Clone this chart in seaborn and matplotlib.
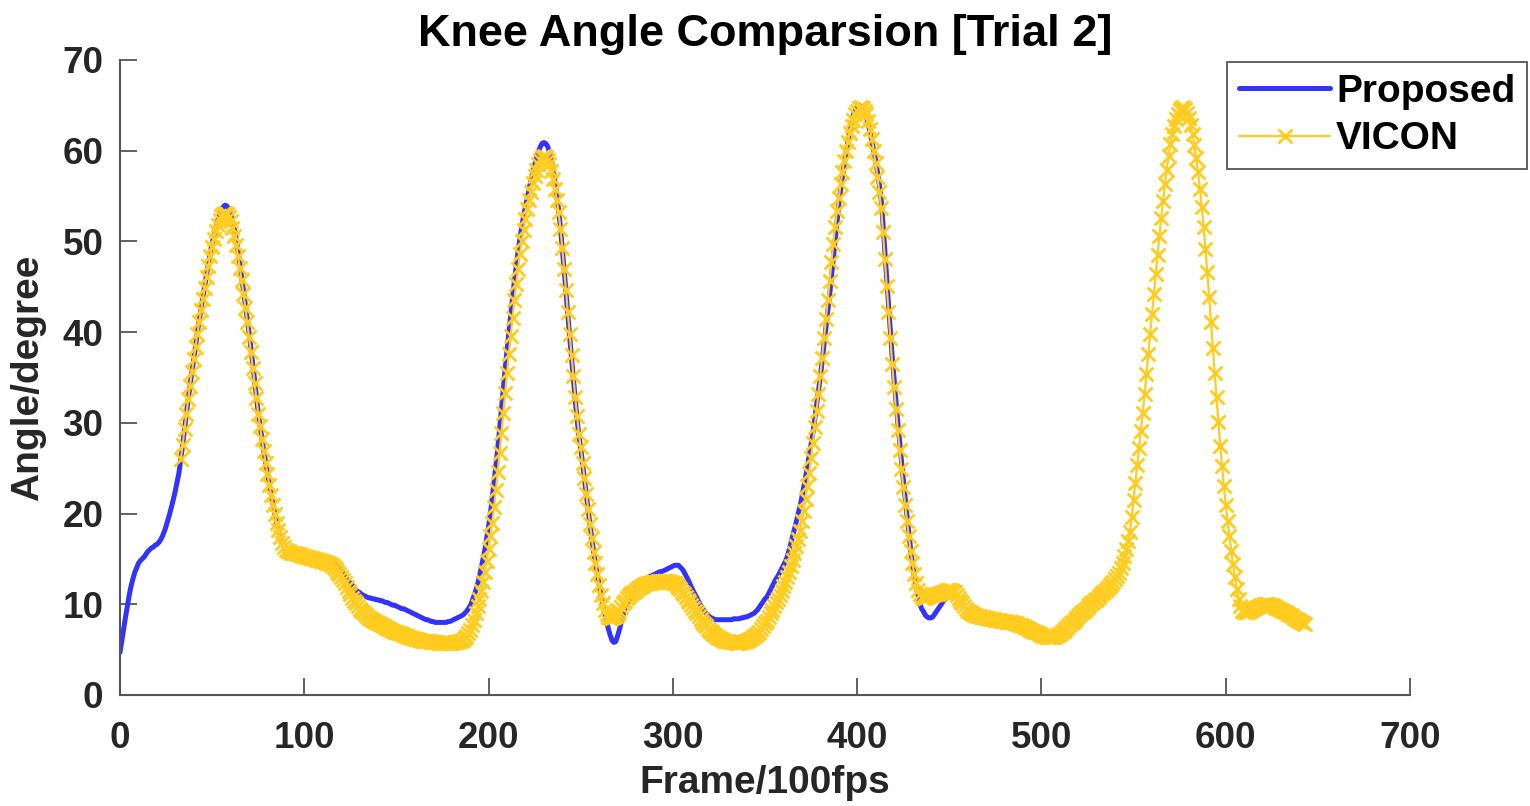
import numpy as np
import pandas as pd
import matplotlib
matplotlib.use("Agg")
import matplotlib.pyplot as plt
import seaborn as sns

# ---------------- data (one value per frame) ----------------
proposed_start = 0
proposed = [
    4.7, 6.0, 7.3, 8.6, 9.8, 11.0, 12.0, 12.8, 13.5, 14.0,
    14.5, 14.8, 15.0, 15.2, 15.5, 15.8, 16.0, 16.2, 16.3, 16.5,
    16.6, 16.8, 17.1, 17.5, 18.0, 18.6, 19.3, 20.0, 20.8, 21.6,
    22.5, 23.5, 24.5, 26.0, 27.6, 29.3, 31.0, 32.6, 34.1, 35.6,
    37.0, 38.4, 40.0, 41.3, 42.6, 43.9, 45.1, 46.4, 47.6, 48.7,
    49.8, 50.7, 51.5, 52.3, 53.0, 53.5, 53.8, 54.0, 53.9, 53.6,
    53.0, 52.3, 51.5, 50.3, 49.0, 47.6, 46.1, 44.6, 43.0, 41.5,
    40.0, 38.3, 36.6, 34.8, 33.0, 31.1, 29.7, 28.3, 26.9, 25.7,
    24.5, 23.3, 22.2, 21.1, 20.0, 19.0, 18.2, 17.5, 16.8, 16.3,
    16.0, 15.9, 15.9, 15.8, 15.8, 15.7, 15.7, 15.6, 15.6, 15.5,
    15.5, 15.4, 15.4, 15.3, 15.3, 15.2, 15.2, 15.1, 15.0, 15.0,
    14.9, 14.9, 14.8, 14.7, 14.7, 14.6, 14.5, 14.4, 14.2, 14.0,
    13.7, 13.4, 13.1, 12.8, 12.6, 12.3, 12.1, 11.8, 11.6, 11.4,
    11.3, 11.1, 11.0, 10.9, 10.8, 10.7, 10.7, 10.6, 10.6, 10.5,
    10.5, 10.4, 10.4, 10.3, 10.2, 10.2, 10.1, 10.0, 9.9, 9.9,
    9.8, 9.7, 9.6, 9.5, 9.5, 9.4, 9.3, 9.2, 9.1, 9.0,
    8.9, 8.8, 8.7, 8.6, 8.5, 8.4, 8.3, 8.3, 8.2, 8.1,
    8.1, 8.0, 8.0, 8.0, 8.0, 8.0, 8.0, 8.0, 8.1, 8.1,
    8.2, 8.3, 8.4, 8.5, 8.6, 8.7, 8.8, 9.0, 9.2, 9.5,
    9.8, 10.3, 10.9, 11.5, 12.2, 13.0, 14.0, 15.0, 16.0, 17.3,
    18.6, 20.0, 21.7, 23.5, 25.3, 27.2, 29.4, 31.6, 33.8, 35.9,
    38.0, 40.0, 41.9, 43.8, 45.6, 47.3, 48.9, 50.3, 51.6, 52.8,
    53.8, 54.8, 55.8, 56.7, 57.6, 58.4, 59.2, 59.9, 60.4, 60.8,
    60.9, 60.8, 60.5, 59.9, 59.0, 57.9, 56.6, 55.1, 53.5, 51.5,
    49.2, 46.9, 44.4, 42.0, 39.5, 37.2, 34.9, 32.6, 30.5, 28.6,
    27.2, 25.5, 23.8, 22.1, 20.4, 18.8, 17.3, 15.8, 14.5, 13.3,
    12.1, 11.0, 10.0, 9.1, 8.2, 7.3, 6.6, 6.0, 5.8, 5.9,
    6.5, 7.2, 8.0, 8.8, 9.5, 10.0, 10.4, 10.6, 11.0, 11.4,
    11.8, 12.0, 12.2, 12.4, 12.6, 12.8, 12.9, 13.0, 13.1, 13.2,
    13.3, 13.4, 13.5, 13.6, 13.6, 13.7, 13.8, 13.9, 14.0, 14.1,
    14.2, 14.3, 14.3, 14.3, 14.1, 13.9, 13.6, 13.2, 12.8, 12.4,
    11.9, 11.5, 11.1, 10.7, 10.3, 9.9, 9.6, 9.3, 9.0, 8.8,
    8.6, 8.5, 8.4, 8.3, 8.3, 8.3, 8.3, 8.3, 8.3, 8.3,
    8.3, 8.3, 8.3, 8.4, 8.4, 8.4, 8.4, 8.5, 8.5, 8.6,
    8.6, 8.7, 8.8, 8.9, 9.0, 9.2, 9.4, 9.7, 10.0, 10.3,
    10.6, 10.8, 11.2, 11.6, 12.0, 12.4, 12.8, 13.1, 13.5, 13.9,
    14.3, 14.7, 15.2, 15.9, 16.7, 17.5, 18.3, 19.1, 20.0, 20.8,
    21.8, 22.9, 24.0, 25.2, 26.4, 27.6, 28.9, 30.4, 32.0, 33.5,
    35.0, 36.8, 38.6, 40.4, 42.2, 44.0, 46.0, 48.0, 50.0, 52.0,
    54.0, 55.6, 57.1, 58.5, 59.8, 61.0, 62.1, 63.1, 64.0, 64.5,
    64.8, 65.0, 64.9, 64.6, 64.3, 63.7, 63.0, 62.0, 61.0, 60.0,
    59.0, 57.7, 56.3, 54.7, 52.0, 49.0, 46.0, 43.1, 40.2, 37.3,
    34.9, 32.5, 30.2, 28.0, 25.9, 23.8, 21.8, 19.9, 17.9, 16.1,
    14.5, 13.1, 12.0, 11.0, 10.1, 9.5, 9.2, 8.8, 8.6, 8.5,
    8.5, 8.6, 8.9, 9.2, 9.5, 9.8, 10.1, 10.4, 10.6, 10.8, 11.0,
]

vicon_start = 33
vicon = [
    26.0, 27.6, 29.3, 31.0, 32.6, 34.1, 35.6,
    37.0, 38.4, 39.8, 41.1, 42.4, 43.7, 44.9, 46.1, 47.3, 48.4,
    49.4, 50.3, 51.1, 51.8, 52.4, 52.8, 53.0, 53.1, 53.0, 52.7,
    52.2, 51.5, 50.6, 49.6, 48.4, 47.1, 45.7, 44.2, 42.7, 41.1,
    39.5, 37.8, 36.1, 34.4, 32.7, 31.0, 29.6, 28.2, 26.9, 25.6,
    24.4, 23.2, 22.1, 21.0, 20.0, 19.0, 18.2, 17.4, 16.8, 16.3,
    16.0, 15.9, 15.8, 15.7, 15.7, 15.6, 15.5, 15.5, 15.4, 15.3,
    15.3, 15.2, 15.2, 15.1, 15.1, 15.0, 15.0, 14.9, 14.9, 14.8,
    14.8, 14.7, 14.6, 14.5, 14.4, 14.3, 14.1, 13.9, 13.6, 13.3,
    13.0, 12.7, 12.3, 11.9, 11.5, 11.1, 10.7, 10.4, 10.1, 9.8,
    9.5, 9.3, 9.1, 8.9, 8.7, 8.5, 8.4, 8.3, 8.2, 8.0,
    7.9, 7.8, 7.7, 7.6, 7.5, 7.4, 7.3, 7.2, 7.1, 7.0,
    6.9, 6.8, 6.8, 6.7, 6.6, 6.5, 6.5, 6.4, 6.3, 6.3,
    6.2, 6.2, 6.1, 6.1, 6.0, 6.0, 5.9, 5.9, 5.9, 5.8,
    5.8, 5.8, 5.8, 5.7, 5.7, 5.7, 5.7, 5.7, 5.7, 5.7,
    5.7, 5.8, 5.8, 5.8, 5.9, 6.0, 6.1, 6.3, 6.5, 6.8,
    7.2, 7.7, 8.3, 9.0, 9.8, 10.6, 11.5, 12.5, 13.6, 14.8,
    16.1, 17.5, 19.0, 20.7, 22.6, 24.6, 26.7, 28.9, 31.1, 33.3,
    35.5, 37.6, 39.6, 41.6, 43.5, 45.3, 47.0, 48.6, 50.0, 51.3,
    52.5, 53.6, 54.6, 55.5, 56.4, 57.2, 57.9, 58.5, 59.0, 59.3,
    59.4, 59.3, 59.0, 58.5, 57.8, 56.9, 55.8, 54.6, 53.2, 51.4,
    49.3, 47.0, 44.6, 42.2, 39.8, 37.5, 35.2, 32.9, 30.8, 28.8,
    27.3, 25.6, 23.9, 22.2, 20.5, 18.9, 17.3, 15.8, 14.5, 13.3,
    12.1, 11.0, 10.1, 9.4, 8.9, 8.6, 8.5, 8.5, 8.6, 8.7,
    8.9, 9.3, 9.7, 10.1, 10.4, 10.7, 10.9, 11.1, 11.2, 11.4,
    11.6, 11.8, 11.9, 12.0, 12.1, 12.2, 12.3, 12.4, 12.4, 12.5,
    12.5, 12.5, 12.6, 12.6, 12.6, 12.6, 12.6, 12.6, 12.5, 12.5,
    12.4, 12.3, 12.1, 11.9, 11.7, 11.4, 11.1, 10.8, 10.5, 10.2,
    9.9, 9.6, 9.3, 9.0, 8.7, 8.4, 8.1, 7.8, 7.6, 7.3,
    7.1, 6.9, 6.7, 6.6, 6.4, 6.3, 6.2, 6.1, 6.0, 5.9,
    5.9, 5.8, 5.8, 5.8, 5.7, 5.7, 5.7, 5.8, 5.8, 5.9,
    6.0, 6.1, 6.2, 6.3, 6.5, 6.6, 6.8, 7.0, 7.3, 7.6,
    7.9, 8.2, 8.6, 9.0, 9.4, 9.8, 10.2, 10.6, 11.0, 11.5,
    12.0, 12.5, 13.0, 13.6, 14.2, 14.9, 15.6, 16.4, 17.2, 18.1,
    19.2, 20.3, 21.6, 23.0, 24.5, 26.1, 27.8, 29.5, 31.3, 33.2,
    35.2, 37.2, 39.3, 41.4, 43.5, 45.6, 47.7, 49.7, 51.6, 53.3,
    54.8, 56.3, 57.7, 58.9, 60.0, 61.0, 61.9, 62.7, 63.4, 64.0,
    64.4, 64.7, 64.8, 64.7, 64.4, 64.0, 63.3, 62.4, 61.3, 60.0,
    58.6, 57.1, 55.5, 53.7, 51.0, 48.1, 45.1, 42.2, 39.3, 36.5,
    33.9, 31.5, 29.2, 27.0, 24.9, 22.9, 21.0, 19.2, 17.5, 15.9,
    14.5, 13.3, 12.3, 11.6, 11.1, 10.8, 10.7, 10.7, 10.8, 10.9,
    11.0, 11.0, 11.1, 11.1, 11.1, 11.2, 11.3, 11.4, 11.5, 11.6,
    11.6, 11.6, 11.5, 11.3, 11.0, 10.7, 10.4, 10.1, 9.8, 9.5,
    9.3, 9.1, 9.0, 8.9, 8.8, 8.7, 8.7, 8.6, 8.6, 8.6,
    8.5, 8.5, 8.4, 8.4, 8.4, 8.3, 8.3, 8.3, 8.2, 8.2,
    8.2, 8.1, 8.1, 8.0, 8.0, 7.9, 7.9, 7.8, 7.7, 7.7,
    7.6, 7.5, 7.4, 7.3, 7.2, 7.1, 7.0, 6.9, 6.8, 6.7,
    6.6, 6.5, 6.5, 6.4, 6.4, 6.4, 6.4, 6.4, 6.5, 6.6,
    6.7, 6.9, 7.1, 7.3, 7.5, 7.7, 7.9, 8.1, 8.3, 8.5,
    8.7, 8.9, 9.1, 9.3, 9.5, 9.7, 9.9, 10.1, 10.3, 10.5,
    10.6, 10.8, 11.0, 11.2, 11.4, 11.6, 11.8, 12.0, 12.2, 12.5,
    12.8, 13.1, 13.5, 14.0, 14.6, 15.3, 16.1, 17.0, 18.0, 19.6,
    21.5, 23.4, 25.3, 27.2, 29.1, 31.1, 33.2, 35.4, 37.6, 39.8,
    42.0, 44.2, 46.4, 48.5, 50.6, 52.6, 54.5, 56.3, 57.9, 59.4,
    60.7, 61.8, 62.7, 63.5, 64.1, 64.5, 64.7, 64.8, 64.6, 64.2,
    63.6, 62.8, 61.8, 60.6, 59.2, 57.6, 55.8, 53.8, 51.6, 49.2,
    46.6, 43.9, 41.1, 38.3, 35.5, 32.8, 30.1, 27.5, 25.2, 23.0,
    21.0, 19.2, 17.5, 15.9, 14.4, 13.0, 11.7, 10.6, 9.8, 9.3,
    9.1, 9.1, 9.2, 9.3, 9.4, 9.5, 9.6, 9.7, 9.8, 9.9,
    9.9, 10.0, 10.0, 10.0, 9.9, 9.9, 9.8, 9.7, 9.6, 9.5,
    9.4, 9.3, 9.2, 9.0, 8.9, 8.8, 8.7, 8.5, 8.4, 8.3,
    8.2, 8.0, 7.9, 7.8,
]

title = "Knee Angle Comparsion [Trial 2]"
x_label = "Frame/100fps"
y_label = "Angle/degree"
series_names = ["Proposed", "VICON"]
x_ticks = [0, 100, 200, 300, 400, 500, 600, 700]
y_ticks = [0, 10, 20, 30, 40, 50, 60, 70]

# ---------------- styling ----------------
sns.set_style("white")
plt.rcParams["font.family"] = ["Liberation Sans", "DejaVu Sans"]
plt.rcParams["font.weight"] = "bold"

blue = "#3333FF"
yellow = "#FFCC1F"
spine_col = "#555555"
text_col = "#262626"

df_p = pd.DataFrame({"frame": np.arange(proposed_start, proposed_start + len(proposed)),
                     "angle": proposed})
df_v = pd.DataFrame({"frame": np.arange(vicon_start, vicon_start + len(vicon)),
                     "angle": vicon})

fig = plt.figure(figsize=(15.30, 8.06), dpi=100)
ax = fig.add_axes([120 / 1530, 1 - 695 / 806, (1410 - 120) / 1530, (695 - 60) / 806])

sns.lineplot(data=df_p, x="frame", y="angle", ax=ax, color=blue, linewidth=3.6,
             label=series_names[0], sort=False, estimator=None)
sns.lineplot(data=df_v, x="frame", y="angle", ax=ax, color=yellow, linewidth=1.6,
             marker="x", markersize=9.5, markeredgewidth=2.0, markeredgecolor=yellow,
             label=series_names[1], sort=False, estimator=None)

ax.set_xlim(0, 700)
ax.set_ylim(0, 70)
ax.set_xticks(x_ticks)
ax.set_yticks(y_ticks)
ax.tick_params(axis="both", which="major", direction="in", length=12, width=1.3,
               color=spine_col, labelsize=26.5, labelcolor=text_col,
               bottom=True, left=True, top=False, right=False)
ax.tick_params(axis="x", pad=19)
ax.tick_params(axis="y", pad=12)
for lab in ax.get_xticklabels() + ax.get_yticklabels():
    lab.set_fontweight("bold")

for side in ["top", "right"]:
    ax.spines[side].set_visible(False)
for side in ["left", "bottom"]:
    ax.spines[side].set_color(spine_col)
    ax.spines[side].set_linewidth(1.5)

ax.set_xlabel(x_label, fontsize=28, fontweight="bold", labelpad=6, color=text_col)
ax.set_ylabel(y_label, fontsize=28, fontweight="bold", labelpad=12, color=text_col)
ax.set_title(title, fontsize=32.5, fontweight="bold", pad=10, color="black")

leg = ax.legend(loc="upper right", bbox_to_anchor=(1527 / 1530, 1 - 62 / 806),
                bbox_transform=fig.transFigure, borderaxespad=0, fancybox=False,
                framealpha=1, edgecolor=spine_col, handlelength=2.35,
                handletextpad=0.15, borderpad=0.3, labelspacing=0.3,
                prop={"weight": "bold", "size": 28})
leg.get_frame().set_linewidth(1.3)
for t in leg.get_texts():
    t.set_color("black")

fig.savefig("out.png", dpi=100)
